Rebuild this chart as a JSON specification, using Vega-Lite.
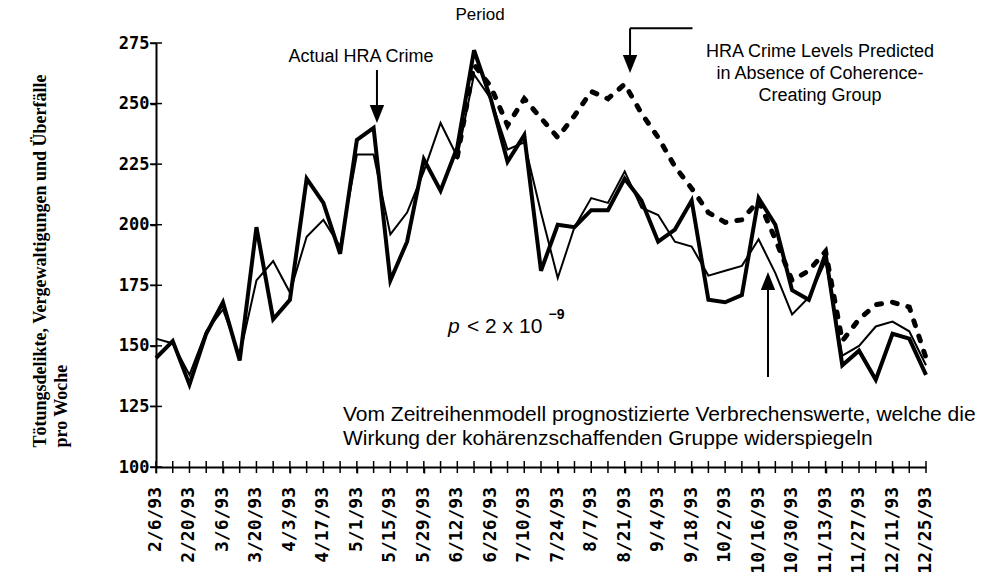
{
  "$schema": "https://vega.github.io/schema/vega-lite/v6.json",
  "width": 770,
  "height": 424,
  "autosize": "none",
  "padding": {"left": 156, "top": 43, "right": 65, "bottom": 111},
  "background": "white",
  "config": {"view": {"stroke": null}, "axis": {"grid": false}},
  "datasets": {
    "crime": [
      {"week": 0, "date": "2/6/93", "actual": 145, "model": 153, "noGroup": null},
      {"week": 1, "date": "2/13/93", "actual": 152, "model": 151, "noGroup": null},
      {"week": 2, "date": "2/20/93", "actual": 134, "model": 138, "noGroup": null},
      {"week": 3, "date": "2/27/93", "actual": 155, "model": 156, "noGroup": null},
      {"week": 4, "date": "3/6/93", "actual": 168, "model": 165, "noGroup": null},
      {"week": 5, "date": "3/13/93", "actual": 144, "model": 146, "noGroup": null},
      {"week": 6, "date": "3/20/93", "actual": 199, "model": 177, "noGroup": null},
      {"week": 7, "date": "3/27/93", "actual": 161, "model": 185, "noGroup": null},
      {"week": 8, "date": "4/3/93", "actual": 169, "model": 172, "noGroup": null},
      {"week": 9, "date": "4/10/93", "actual": 219, "model": 195, "noGroup": null},
      {"week": 10, "date": "4/17/93", "actual": 209, "model": 202, "noGroup": null},
      {"week": 11, "date": "4/24/93", "actual": 188, "model": 191, "noGroup": null},
      {"week": 12, "date": "5/1/93", "actual": 235, "model": 229, "noGroup": null},
      {"week": 13, "date": "5/8/93", "actual": 240, "model": 229, "noGroup": null},
      {"week": 14, "date": "5/15/93", "actual": 177, "model": 196, "noGroup": null},
      {"week": 15, "date": "5/22/93", "actual": 193, "model": 205, "noGroup": null},
      {"week": 16, "date": "5/29/93", "actual": 227, "model": 222, "noGroup": null},
      {"week": 17, "date": "6/5/93", "actual": 214, "model": 242, "noGroup": null},
      {"week": 18, "date": "6/12/93", "actual": 232, "model": 228, "noGroup": 228},
      {"week": 19, "date": "6/19/93", "actual": 272, "model": 262, "noGroup": 266},
      {"week": 20, "date": "6/26/93", "actual": 252, "model": 252, "noGroup": 257},
      {"week": 21, "date": "7/3/93", "actual": 226, "model": 231, "noGroup": 241},
      {"week": 22, "date": "7/10/93", "actual": 237, "model": 234, "noGroup": 252},
      {"week": 23, "date": "7/17/93", "actual": 181, "model": 205, "noGroup": 244},
      {"week": 24, "date": "7/24/93", "actual": 200, "model": 178, "noGroup": 236},
      {"week": 25, "date": "7/31/93", "actual": 199, "model": 199, "noGroup": 245},
      {"week": 26, "date": "8/7/93", "actual": 206, "model": 211, "noGroup": 255},
      {"week": 27, "date": "8/14/93", "actual": 206, "model": 209, "noGroup": 252},
      {"week": 28, "date": "8/21/93", "actual": 219, "model": 222, "noGroup": 258},
      {"week": 29, "date": "8/28/93", "actual": 210, "model": 207, "noGroup": 246},
      {"week": 30, "date": "9/4/93", "actual": 193, "model": 204, "noGroup": 236},
      {"week": 31, "date": "9/11/93", "actual": 198, "model": 193, "noGroup": 224},
      {"week": 32, "date": "9/18/93", "actual": 210, "model": 191, "noGroup": 215},
      {"week": 33, "date": "9/25/93", "actual": 169, "model": 179, "noGroup": 205},
      {"week": 34, "date": "10/2/93", "actual": 168, "model": 181, "noGroup": 201},
      {"week": 35, "date": "10/9/93", "actual": 171, "model": 183, "noGroup": 202},
      {"week": 36, "date": "10/16/93", "actual": 211, "model": 194, "noGroup": 210},
      {"week": 37, "date": "10/23/93", "actual": 200, "model": 180, "noGroup": 194},
      {"week": 38, "date": "10/30/93", "actual": 173, "model": 163, "noGroup": 177},
      {"week": 39, "date": "11/6/93", "actual": 169, "model": 170, "noGroup": 181},
      {"week": 40, "date": "11/13/93", "actual": 188, "model": 185, "noGroup": 189},
      {"week": 41, "date": "11/20/93", "actual": 142, "model": 146, "noGroup": 152},
      {"week": 42, "date": "11/27/93", "actual": 148, "model": 150, "noGroup": 161},
      {"week": 43, "date": "12/4/93", "actual": 136, "model": 158, "noGroup": 167},
      {"week": 44, "date": "12/11/93", "actual": 155, "model": 160, "noGroup": 168},
      {"week": 45, "date": "12/18/93", "actual": 153, "model": 156, "noGroup": 166},
      {"week": 46, "date": "12/25/93", "actual": 138, "model": 142, "noGroup": 145}
    ]
  },
  "data": {"name": "crime"},
  "layer": [
    {
      "mark": {"type": "line", "stroke": "black", "strokeWidth": 2},
      "encoding": {
        "x": {
          "field": "week", "type": "quantitative",
          "scale": {"domain": [0, 46], "nice": false, "zero": false},
          "axis": {
            "title": null,
            "values": [0,2,4,6,8,10,12,14,16,18,20,22,24,26,28,30,32,34,36,38,40,42,44,46],
            "labels": false,
            "tickSize": 6,
            "tickWidth": 1.5,
            "tickColor": "black",
            "domainColor": "black",
            "domainWidth": 2
          }
        },
        "y": {
          "field": "model", "type": "quantitative",
          "scale": {"domain": [100, 275], "nice": false, "zero": false},
          "axis": {
            "values": [100, 125, 150, 175, 200, 225, 250, 275],
            "labelFont": "DejaVu Sans Mono",
            "labelFontWeight": "bold",
            "labelFontSize": 17,
            "labelColor": "black",
            "labelPadding": 1,
            "tickSize": 6,
            "tickWidth": 1.5,
            "tickColor": "black",
            "domainColor": "black",
            "domainWidth": 2,
            "title": ["Tötungsdelikte, Vergewaltigungen und Überfälle", "pro Woche"],
            "titleFont": "Liberation Serif",
            "titleFontWeight": "bold",
            "titleFontSize": 18,
            "titleLineHeight": 21,
            "titleColor": "black",
            "titleAngle": -90,
            "titleAlign": "left",
            "titleBaseline": "middle",
            "titleX": -116,
            "titleY": 404
          }
        }
      }
    },
    {
      "mark": {"type": "line", "stroke": "black", "strokeWidth": 5, "strokeDash": [5, 11], "strokeCap": "round"},
      "encoding": {
        "x": {"field": "week", "type": "quantitative"},
        "y": {"field": "noGroup", "type": "quantitative"}
      }
    },
    {
      "mark": {"type": "line", "stroke": "black", "strokeWidth": 4},
      "encoding": {
        "x": {"field": "week", "type": "quantitative"},
        "y": {"field": "actual", "type": "quantitative"}
      }
    },
    {
      "mark": {"type": "tick", "orient": "vertical", "color": "black", "size": 12, "thickness": 1.5, "opacity": 1},
      "encoding": {
        "x": {"field": "week", "type": "quantitative"},
        "y": {"datum": 100, "type": "quantitative"}
      }
    },
    {
      "transform": [{"filter": "datum.week % 2 == 0"}],
      "mark": {"type": "text", "angle": -90, "align": "right", "baseline": "middle", "dx": -20, "font": "DejaVu Sans Mono", "fontWeight": "bold", "fontSize": 18, "color": "black"},
      "encoding": {
        "x": {"field": "week", "type": "quantitative"},
        "y": {"datum": 100, "type": "quantitative"},
        "text": {"field": "date"}
      }
    },
    {
      "data": {"values": [{"v": 100}, {"v": 125}, {"v": 150}, {"v": 175}, {"v": 200}, {"v": 225}, {"v": 250}, {"v": 275}]},
      "mark": {"type": "tick", "orient": "horizontal", "color": "black", "size": 12, "thickness": 1.5, "opacity": 1},
      "encoding": {
        "x": {"datum": 0, "type": "quantitative"},
        "y": {"field": "v", "type": "quantitative"}
      }
    },
    {
      "data": {"values": [{}]},
      "mark": {"type": "text", "text": "Period", "font": "Liberation Sans", "fontSize": 17, "align": "center", "baseline": "middle", "color": "black"},
      "encoding": {
        "x": {"datum": 19.36, "type": "quantitative"},
        "y": {"datum": 286.5, "type": "quantitative"}
      }
    },
    {
      "data": {"values": [{}]},
      "mark": {"type": "text", "text": "Actual HRA Crime", "font": "Liberation Sans", "fontSize": 18, "align": "center", "baseline": "middle", "color": "black"},
      "encoding": {
        "x": {"datum": 12.25, "type": "quantitative"},
        "y": {"datum": 269.2, "type": "quantitative"}
      }
    },
    {
      "data": {"values": [{}]},
      "mark": {"type": "rule", "stroke": "black", "strokeWidth": 2},
      "encoding": {
        "x": {"datum": 13.2, "type": "quantitative"},
        "y": {"datum": 263.85, "type": "quantitative"},
        "y2": {"datum": 245}
      }
    },
    {
      "data": {"values": [{}]},
      "mark": {"type": "point", "shape": "M-0.4,-1L0.4,-1L0,0Z", "size": 1296, "filled": true, "fill": "black", "stroke": null, "opacity": 1},
      "encoding": {
        "x": {"datum": 13.2, "type": "quantitative"},
        "y": {"datum": 241.98, "type": "quantitative"}
      }
    },
    {
      "data": {"values": [{}]},
      "mark": {"type": "text", "text": ["HRA Crime Levels Predicted", "in Absence of Coherence-", "Creating Group"], "font": "Liberation Sans", "fontSize": 18, "lineHeight": 22, "align": "center", "baseline": "middle", "color": "black"},
      "encoding": {
        "x": {"datum": 39.67, "type": "quantitative"},
        "y": {"datum": 271.28, "type": "quantitative"}
      }
    },
    {
      "data": {"values": [{}]},
      "mark": {"type": "rule", "stroke": "black", "strokeWidth": 2},
      "encoding": {
        "x": {"datum": 28.32, "type": "quantitative"},
        "x2": {"datum": 32.05},
        "y": {"datum": 281.06, "type": "quantitative"}
      }
    },
    {
      "data": {"values": [{}]},
      "mark": {"type": "rule", "stroke": "black", "strokeWidth": 2},
      "encoding": {
        "x": {"datum": 28.32, "type": "quantitative"},
        "y": {"datum": 281.06, "type": "quantitative"},
        "y2": {"datum": 266}
      }
    },
    {
      "data": {"values": [{}]},
      "mark": {"type": "point", "shape": "M-0.4,-1L0.4,-1L0,0Z", "size": 1296, "filled": true, "fill": "black", "stroke": null, "opacity": 1},
      "encoding": {
        "x": {"datum": 28.32, "type": "quantitative"},
        "y": {"datum": 262.6, "type": "quantitative"}
      }
    },
    {
      "data": {"values": [{}]},
      "mark": {"type": "text", "text": "p", "font": "Liberation Sans", "fontStyle": "italic", "fontSize": 21, "align": "left", "baseline": "middle", "color": "black"},
      "encoding": {
        "x": {"datum": 17.44, "type": "quantitative"},
        "y": {"datum": 157.78, "type": "quantitative"}
      }
    },
    {
      "data": {"values": [{}]},
      "mark": {"type": "text", "text": "< 2 x 10", "font": "Liberation Sans", "fontSize": 21, "align": "left", "baseline": "middle", "color": "black"},
      "encoding": {
        "x": {"datum": 18.58, "type": "quantitative"},
        "y": {"datum": 157.78, "type": "quantitative"}
      }
    },
    {
      "data": {"values": [{}]},
      "mark": {"type": "text", "text": "−9", "font": "Liberation Sans", "fontWeight": "bold", "fontSize": 14, "align": "left", "baseline": "middle", "color": "black"},
      "encoding": {
        "x": {"datum": 23.45, "type": "quantitative"},
        "y": {"datum": 162.8, "type": "quantitative"}
      }
    },
    {
      "data": {"values": [{}]},
      "mark": {"type": "text", "text": ["Vom Zeitreihenmodell prognostizierte Verbrechenswerte, welche die", "Wirkung der kohärenzschaffenden Gruppe widerspiegeln"], "font": "Liberation Sans", "fontSize": 21, "lineHeight": 24, "align": "left", "baseline": "middle", "color": "black"},
      "encoding": {
        "x": {"datum": 11.17, "type": "quantitative"},
        "y": {"datum": 121.46, "type": "quantitative"}
      }
    },
    {
      "data": {"values": [{}]},
      "mark": {"type": "rule", "stroke": "black", "strokeWidth": 2},
      "encoding": {
        "x": {"datum": 36.56, "type": "quantitative"},
        "y": {"datum": 137.15, "type": "quantitative"},
        "y2": {"datum": 177}
      }
    },
    {
      "data": {"values": [{}]},
      "mark": {"type": "point", "shape": "M-0.4,1L0.4,1L0,0Z", "size": 1296, "filled": true, "fill": "black", "stroke": null, "opacity": 1},
      "encoding": {
        "x": {"datum": 36.56, "type": "quantitative"},
        "y": {"datum": 180.48, "type": "quantitative"}
      }
    }
  ]
}
